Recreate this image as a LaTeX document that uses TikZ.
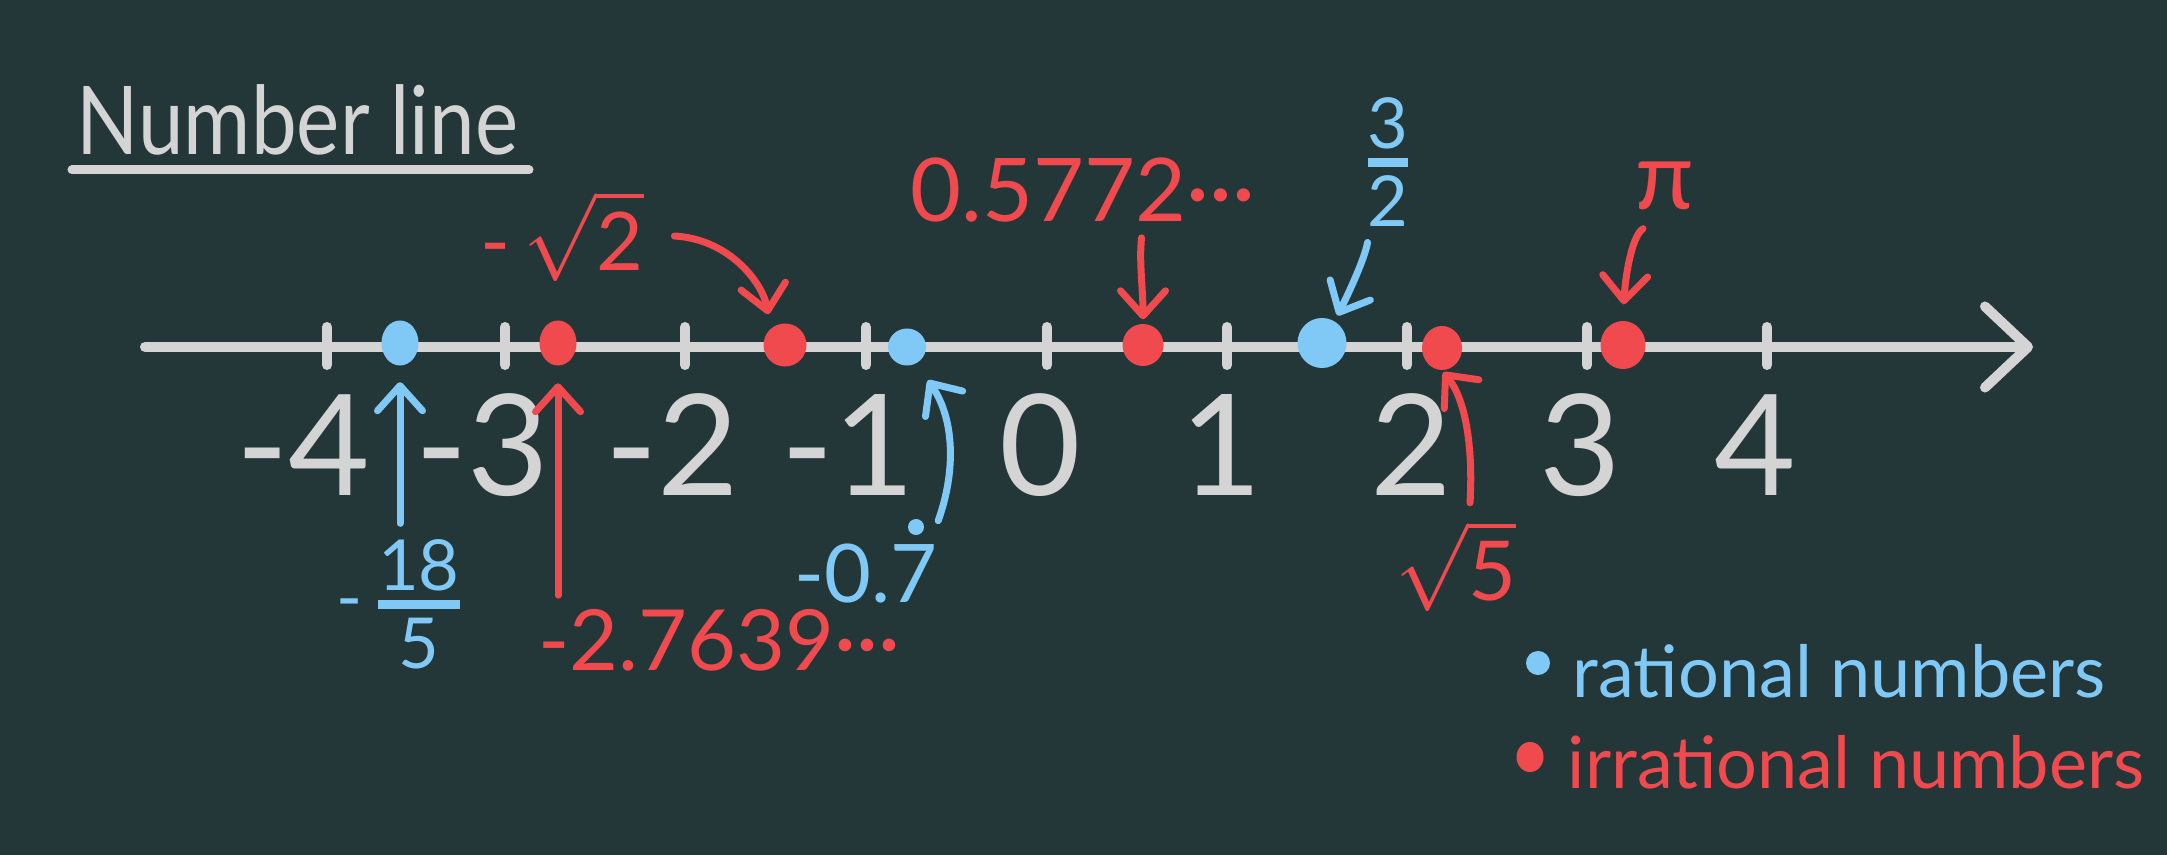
\documentclass[tikz,border=0pt]{standalone}
\usepackage{fontspec}
\usepackage{amsmath}
\setmainfont{Lato}
\usetikzlibrary{arrows.meta,shapes.geometric}
\definecolor{bg}{HTML}{233739}
\definecolor{chalk}{HTML}{D4D4D4}
\definecolor{rd}{HTML}{F0494E}
\definecolor{bl}{HTML}{80C9F7}
\begin{document}
\begin{tikzpicture}[x=0.01cm,y=-0.01cm,
  dotq/.style={ellipse,fill=bl,inner sep=0pt},
  dotr/.style={ellipse,fill=rd,inner sep=0pt},
  num/.style={text=chalk,font=\fontsize{40}{48}\selectfont,inner sep=0pt,anchor=base},
  tickmark/.style={draw=chalk,line width=0.1cm,line cap=round},
  axisline/.style={draw=chalk,line width=0.1cm,line cap=round,-{Straight Barb[length=0.43cm,width=0.81cm,round]}},
  rarr/.style={draw=rd,line width=0.07cm,line cap=round,-{Straight Barb[length=0.25cm,width=0.45cm,round]}},
  barr/.style={draw=bl,line width=0.07cm,line cap=round,-{Straight Barb[length=0.25cm,width=0.45cm,round]}},
  lbl/.style={inner sep=0pt},
]
\fill[bg] (0,0) rectangle (2167,855);
\useasboundingbox (0,0) rectangle (2167,855);

% title
\node[lbl,anchor=base west,text=chalk,font=\fontsize{27}{32}\selectfont] (title) at (76,155) {\scalebox{0.86}[1]{Number line}};
\draw[draw=chalk,line width=0.09cm,line cap=round] (72,170) -- (529,170);

% axis
\coordinate (axL) at (145,347);
\coordinate (axR) at (2033,347);
\draw[axisline] (axL) -- (axR);
\foreach \x in {327,505,685,866,1047,1227,1407,1587,1767}
  \draw[tickmark] (\x,327) -- (\x,365);

% integer labels
\node[num] (nm4) at (303,495) {-4};
\node[num] (nm3) at (482,495) {-3};
\node[num] (nm2) at (672,495) {-2};
\node[num] (nm1) at (848,495) {-1};
\node[num] (n0) at (1040,495) {0};
\node[num] (n1) at (1221,495) {1};
\node[num] (n2) at (1411,495) {2};
\node[num] (n3) at (1580,495) {3};
\node[num] (n4) at (1755,495) {4};

% dots
\node[dotq,minimum width=0.37cm,minimum height=0.45cm] (q1) at (400,343) {};
\node[dotr,minimum width=0.37cm,minimum height=0.45cm] (r1) at (558,343) {};
\node[dotr,minimum width=0.43cm,minimum height=0.43cm] (r2) at (785,345) {};
\node[dotq,minimum width=0.38cm,minimum height=0.37cm] (q2) at (907,347) {};
\node[dotr,minimum width=0.41cm,minimum height=0.42cm] (r3) at (1143,345) {};
\node[dotq,minimum width=0.49cm,minimum height=0.50cm] (q3) at (1322,343) {};
\node[dotr,minimum width=0.40cm,minimum height=0.44cm] (r4) at (1442,348) {};
\node[dotr,minimum width=0.45cm,minimum height=0.48cm] (r5) at (1623,345) {};

% value labels
\node[lbl,text=rd,font=\fontsize{23}{28}\selectfont] (lr2) at (562,236) {$\mbox{-\,}\sqrt{\mbox{2}}$};
\node[lbl,text=rd,font=\fontsize{25}{30}\selectfont] (lr3) at (1083,190) {0.5772···};
\node[lbl,text=bl,font=\fontsize{20}{24}\selectfont] (lq3) at (1388,162) {$\genfrac{}{}{2.6pt}{1}{\mbox{3}}{\mbox{2}}$};
\node[lbl,text=rd,font=\fontsize{27}{32}\selectfont] (lr5) at (1665,186) {π};
\node[lbl,text=bl,font=\fontsize{20}{24}\selectfont] (lq1) at (400,604) {$\mbox{-\,}\genfrac{}{}{2.6pt}{1}{\mbox{18}}{\mbox{5}}$};
\node[lbl,text=rd,font=\fontsize{24}{29}\selectfont,anchor=base] (lr1) at (719,670) {-2.7639···};
\node[lbl,text=bl,font=\fontsize{23}{28}\selectfont,anchor=base] (lq2) at (866,602) {-0.7};
\fill[bl] (916,527) circle (0.08cm);
\node[lbl,text=rd,font=\fontsize{23.5}{28}\selectfont] (lr4) at (1456,566) {$\sqrt{\mbox{5}}$};

% arrows
\draw[rarr,shorten >=0.14cm] ([xshift=0.3cm]lr2.east) .. controls +(55,3) and +(-8,-45) .. (r2.130);
\draw[rarr,shorten <=0.15cm,shorten >=0.04cm] (lr3.south -| r3.north) .. controls +(-4,40) and +(0,-35) .. (r3.north);
\draw[barr,shorten <=0.15cm,shorten >=0.06cm] ([xshift=-0.18cm]lq3.south) .. controls +(-5,30) and +(15,-30) .. (q3.60);
\draw[barr,shorten <=0.15cm,shorten >=0.16cm] (lq1.north) -- (q1.south);
\draw[rarr,shorten <=0.13cm,shorten >=0.17cm] (lr1.north -| r1.south) -- (r1.south);
\draw[barr,shorten >=0.2cm] ([yshift=0.22cm]lq2.north east) .. controls +(17,-47) and +(39,57) .. (q2.-60);
\draw[rarr,shorten >=0.02cm] ([xshift=0.14cm,yshift=0.17cm]lr4.north) .. controls +(3,-50) and +(25,30) .. (r4.south);
\draw[rarr,shorten >=0.16cm] ([xshift=-0.22cm,yshift=-0.18cm]lr5.south) .. controls +(-12,8) and +(2,-40) .. (r5.north);

% legend
\node[dotq,minimum size=0.24cm] (legq) at (1538,663) {};
\node[dotr,minimum width=0.27cm,minimum height=0.3cm] (legr) at (1530,757) {};
\node[lbl,text=bl,font=\fontsize{20.5}{25}\selectfont,anchor=base west] (legqt) at (1572,697) {rational numbers};
\node[lbl,text=rd,font=\fontsize{20.5}{25}\selectfont,anchor=base west] (legrt) at (1567,788) {irrational numbers};
\end{tikzpicture}
\end{document}
